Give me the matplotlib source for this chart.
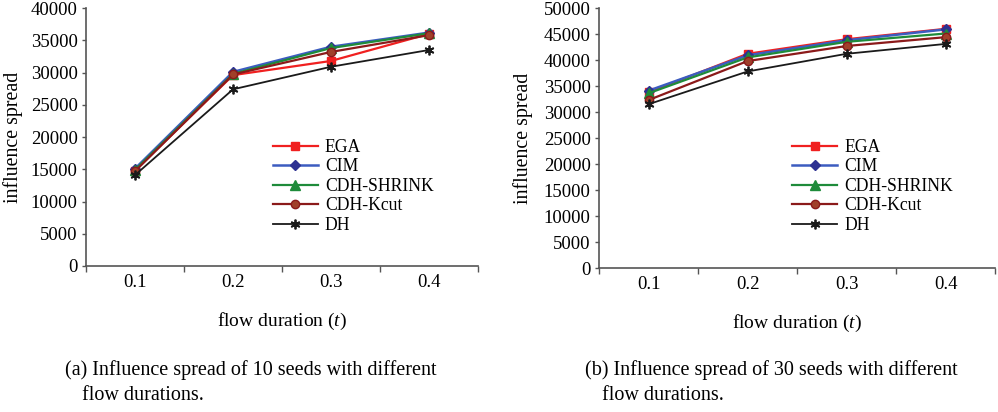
import matplotlib
matplotlib.use("Agg")
import matplotlib.pyplot as plt
import numpy as np

plt.rcParams['font.family'] = ['Liberation Serif', 'DejaVu Serif']
plt.rcParams['mathtext.fontset'] = 'custom'
plt.rcParams['mathtext.it'] = 'Liberation Serif:italic'
plt.rcParams['mathtext.rm'] = 'Liberation Serif'

categories = ["0.1", "0.2", "0.3", "0.4"]
series_names = ["EGA", "CIM", "CDH-SHRINK", "CDH-Kcut", "DH"]

# (a) 10 seeds
a_EGA = [14800, 29600, 31800, 36000]
a_CIM = [15100, 30100, 34000, 36200]
a_SHRINK = [14900, 29800, 33800, 36100]
a_Kcut = [14700, 29700, 33200, 35800]
a_DH = [14100, 27400, 30900, 33500]

# (b) 30 seeds
b_EGA = [33800, 41200, 44000, 46000]
b_CIM = [34100, 40900, 43800, 45900]
b_SHRINK = [33600, 40500, 43500, 45100]
b_Kcut = [32300, 39800, 42700, 44400]
b_DH = [31500, 37800, 41200, 43100]

yticks_a = [0, 5000, 10000, 15000, 20000, 25000, 30000, 35000, 40000]
yticks_b = [0, 5000, 10000, 15000, 20000, 25000, 30000, 35000, 40000, 45000, 50000]

styles = [
    dict(color='#F02020', marker='s', mfc='#F02020', mec='#F02020', ms=6, lw=1.6),
    dict(color='#3C5CC0', marker='D', mfc='#2E3192', mec='#2E3192', ms=5.5, lw=1.8),
    dict(color='#1E8B3A', marker='^', mfc='#1E8B3A', mec='#1E8B3A', ms=6.5, lw=1.6),
    dict(color='#8B1A1A', marker='o', mfc='#A0402A', mec='#8B1A1A', ms=6, lw=1.6),
    dict(color='#1A1A1A', marker=(6, 2, 0), mfc='#1A1A1A', mec='#1A1A1A', ms=7, lw=1.3, mew=1.3),
]

fig = plt.figure(figsize=(9.98, 4.12), dpi=100)
axA = fig.add_axes([0.0862, 0.3544, 0.3928, 0.626])
axB = fig.add_axes([0.6002, 0.3495, 0.397, 0.631])

def draw(ax, data, yticks, leg_anchor):
    x = np.arange(1, len(categories) + 1)
    for name, vals, st in zip(series_names, data, styles):
        ax.plot(x, vals, label=name, **st)
    ax.set_xlim(0.5, len(categories) + 0.5)
    ax.set_ylim(0, yticks[-1])
    ax.set_yticks(yticks)
    ax.set_yticklabels([str(v) for v in yticks])
    ax.set_xticks(np.arange(0.5, len(categories) + 1, 1.0))
    ax.set_xticklabels([])
    ax.set_xticks(x, minor=True)
    ax.set_xticklabels(categories, minor=True)
    ax.tick_params(axis='x', which='major', direction='out', length=4, width=1, color='#555555')
    ax.tick_params(axis='x', which='minor', length=0, pad=6, labelsize=13.5)
    ax.tick_params(axis='y', direction='out', length=3, width=1, color='#555555', labelsize=13.5, pad=3)
    for s in ['top', 'right']:
        ax.spines[s].set_visible(False)
    for s in ['left', 'bottom']:
        ax.spines[s].set_color('#555555')
        ax.spines[s].set_linewidth(1.2)
    ax.set_ylabel('influence spread', fontsize=14.3)
    ax.set_xlabel('flow duration ($t$)', fontsize=14, labelpad=14)
    ax.legend(loc='upper left', bbox_to_anchor=leg_anchor, frameon=False,
              fontsize=12.7, handlelength=2.55, labelspacing=0.14, handletextpad=0.4)

draw(axA, [a_EGA, a_CIM, a_SHRINK, a_Kcut, a_DH], yticks_a, (0.436, 0.554))
draw(axB, [b_EGA, b_CIM, b_SHRINK, b_Kcut, b_DH], yticks_b, (0.448, 0.558))
axA.yaxis.set_label_coords(-0.161, 0.5)
axB.yaxis.set_label_coords(-0.166, 0.5)

fig.text(0.065, 1 - 370/412, '(a) Influence spread of 10 seeds with different', fontsize=14.5, va='center', ha='left')
fig.text(0.082, 1 - 395/412, 'flow durations.', fontsize=14.5, va='center', ha='left')
fig.text(0.586, 1 - 370/412, '(b) Influence spread of 30 seeds with different', fontsize=14.5, va='center', ha='left')
fig.text(0.603, 1 - 395/412, 'flow durations.', fontsize=14.5, va='center', ha='left')

fig.savefig('out.png', dpi=100)
